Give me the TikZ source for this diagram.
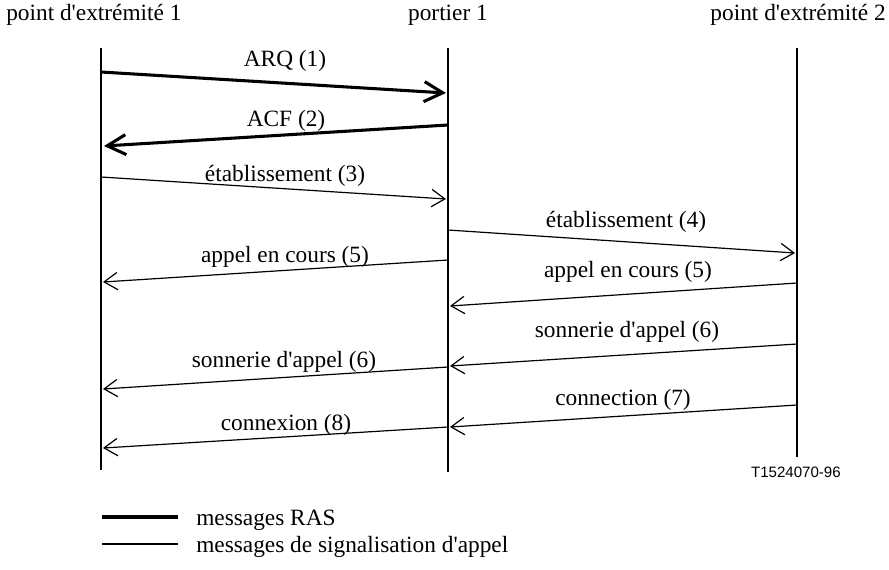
\documentclass[tikz,border=0pt]{standalone}
\usepackage{fontspec}
\setmainfont{Liberation Serif}
\newfontfamily\figsans{Liberation Sans}
\usetikzlibrary{arrows.meta}
\tikzset{
  lifeline/.style={line width=2pt},
  rasmsg/.style={line width=2.3pt, -{Straight Barb[length=14pt,width=15pt]}},
  sigmsg/.style={line width=0.9pt, -{Straight Barb[length=10pt,width=13pt]}},
  lbl/.style={anchor=base, inner sep=0pt, font=\fontsize{17.5}{20}\selectfont},
}
\newcommand{\apos}{\textquotesingle}

\begin{document}
\begin{tikzpicture}[x=0.75pt, y=-0.75pt]
        \useasboundingbox (0,0) rectangle (889,569);
        % entities
        \node[lbl, anchor=base west] (ep1) at (6,20) {point d\apos extrémité 1};
        \node[lbl] (gk) at (448,20) {portier 1};
        \node[lbl, anchor=base east] (ep2) at (886,20) {point d\apos extrémité 2};
        \coordinate (ep1t) at (101,48);  \coordinate (ep1b) at (101,470);
        \coordinate (gkt) at (448,48);   \coordinate (gkb) at (448,472);
        \coordinate (ep2t) at (797,48);  \coordinate (ep2b) at (797,457);
        \draw[lifeline] (ep1t) -- (ep1b);
        \draw[lifeline] (gkt) -- (gkb);
        \draw[lifeline] (ep2t) -- (ep2b);
        % RAS
        \coordinate (m1s) at (101,72);   \coordinate (m1e) at (446,93);
        \coordinate (m2s) at (448,125);  \coordinate (m2e) at (104,146);
        \draw[rasmsg] (m1s) -- (m1e);
        \draw[rasmsg] (m2s) -- (m2e);
        \node[lbl] (l1) at (285,66) {ARQ (1)};
        \node[lbl] (l2) at (286,126) {ACF (2)};
        % signalisation
        \coordinate (m3s) at (101,177);  \coordinate (m3e) at (446,199);
        \coordinate (m4s) at (448,230);  \coordinate (m4e) at (795,253);
        \coordinate (m5s) at (448,260);  \coordinate (m5e) at (103,282);
        \coordinate (m6s) at (797,283);  \coordinate (m6e) at (450,306);
        \coordinate (m7s) at (797,344);  \coordinate (m7e) at (450,366);
        \coordinate (m8s) at (448,367);  \coordinate (m8e) at (103,389);
        \coordinate (m9s) at (797,405);  \coordinate (m9e) at (450,427);
        \coordinate (m10s) at (448,427); \coordinate (m10e) at (103,448);
        \foreach \m in {3,...,10}
          \draw[sigmsg] (m\m s) -- (m\m e);
        \node[lbl] (l3) at (285,181) {établissement (3)};
        \node[lbl] (l4) at (626,227) {établissement (4)};
        \node[lbl] (l5) at (285,262) {appel en cours (5)};
        \node[lbl] (l6) at (628,277) {appel en cours (5)};
        \node[lbl] (l7) at (627,337) {sonnerie d\apos appel (6)};
        \node[lbl] (l8) at (284,367) {sonnerie d\apos appel (6)};
        \node[lbl] (l9) at (623,405) {connection (7)};
        \node[lbl] (l10) at (286,430) {connexion (8)};
        \node[anchor=base east, inner sep=0pt, font=\figsans\fontsize{11.3}{13}\selectfont] (ref) at (841,477) {T1524070-96};
        % legende
        \coordinate (lg1a) at (102,517); \coordinate (lg1b) at (178,517);
        \coordinate (lg2a) at (102,544); \coordinate (lg2b) at (178,544);
        \draw[line width=3pt] (lg1a) -- (lg1b);
        \draw[line width=1.2pt] (lg2a) -- (lg2b);
        \node[lbl, anchor=base west] (lg1) at (196,525) {messages RAS};
        \node[lbl, anchor=base west] (lg2) at (196,552) {messages de signalisation d\apos appel};
      \end{tikzpicture}
\end{document}
